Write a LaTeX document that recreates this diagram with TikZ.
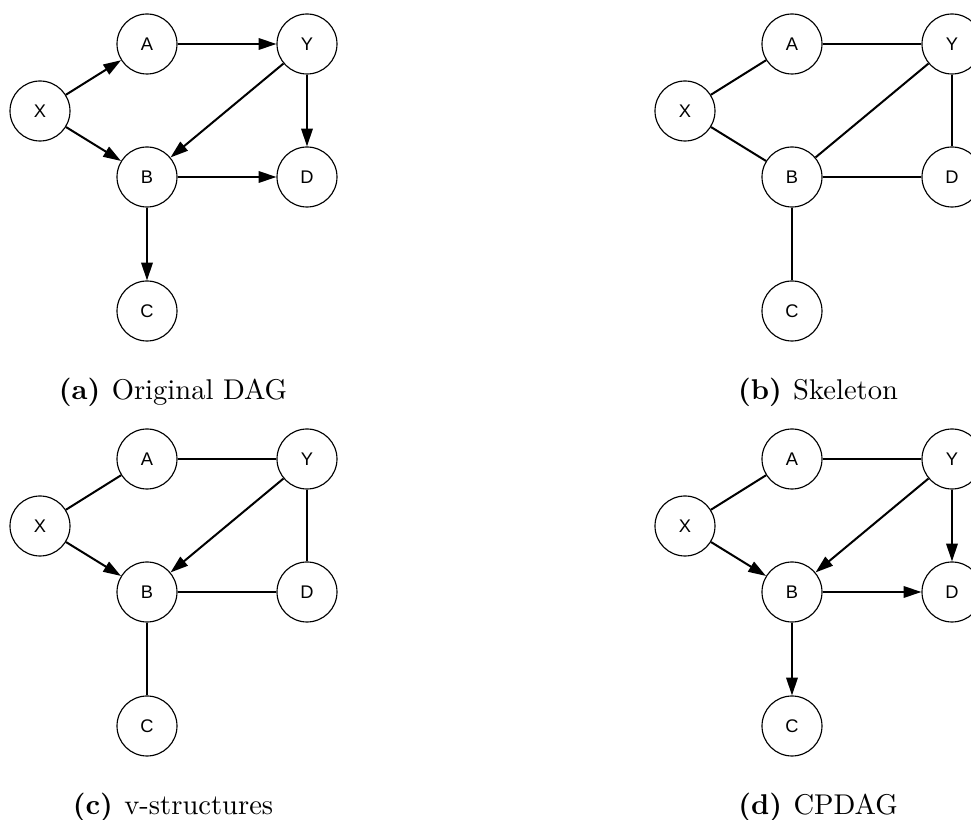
\documentclass[tikz,border=0pt]{standalone}
\usepackage{fontspec}
\newfontfamily\nodefont{Liberation Sans}
\usetikzlibrary{arrows.meta}

\tikzset{
	vertex/.style={circle, draw, line width=0.4pt, inner sep=0mm, minimum size=21pt,
		font=\nodefont\fontsize{6.4}{7}\selectfont},
	edge/.style={line width=0.7pt},
	dir/.style={edge, -{Triangle[length=6.2pt, width=4pt]}},
}

\begin{document}
\begin{tikzpicture}[x=0.35pt, y=-0.35pt]
	\useasboundingbox (0,0) rectangle (971,820);
	%\draw[help lines, step=50] (0,0) grid (971,820);
	
	\foreach \p/\dx/\dy in {a/0/0, b/645/0, c/0/415, d/645/415}
	\foreach \n/\u/\v in {X/40/111, A/147/44, Y/307/44,
		B/147/177, D/307/177, C/147/311}
	\node[vertex] (\p\n) at (\u+\dx, \v+\dy) {\n};
	
	\node[anchor=base] (capa) at (173, 400) {\textbf{(a)}\hspace{4pt}Original DAG};
	\node[anchor=base] (capb) at (818, 400) {\textbf{(b)}\hspace{4pt}Skeleton};
	\node[anchor=base] (capc) at (173, 815) {\textbf{(c)}\hspace{4pt}v-structures};
	\node[anchor=base] (capd) at (818, 815) {\textbf{(d)}\hspace{4pt}CPDAG};
	
	% (a)
	\foreach \s/\t in {X/A, X/B, A/Y, Y/B, Y/D, B/D, B/C}
	\draw[dir] (a\s) -- (a\t);
	
	% (b)
	\foreach \s/\t in {X/A, X/B, A/Y, Y/B, Y/D, B/D, B/C}
	\draw[edge] (b\s) -- (b\t);
	
	% (c)
	\foreach \s/\t in {X/A, A/Y, Y/D, B/D, B/C}
	\draw[edge] (c\s) -- (c\t);
	\foreach \s/\t in {X/B, Y/B}
	\draw[dir] (c\s) -- (c\t);
	
	% (d)
	\foreach \s/\t in {X/A, A/Y}
	\draw[edge] (d\s) -- (d\t);
	\foreach \s/\t in {X/B, Y/B, Y/D, B/D, B/C}
	\draw[dir] (d\s) -- (d\t);
	
\end{tikzpicture}
\end{document}
